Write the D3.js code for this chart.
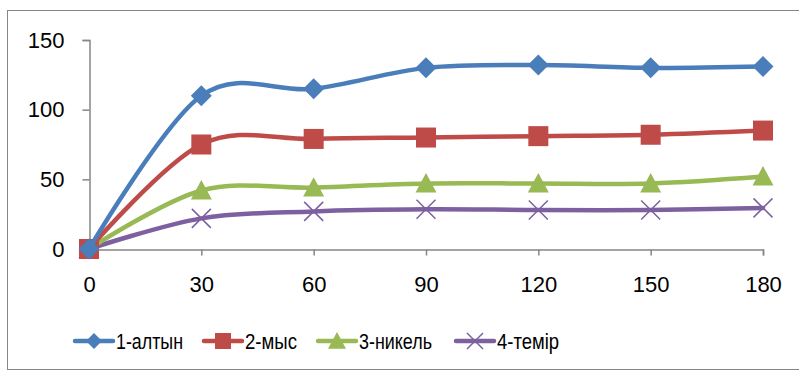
<!DOCTYPE html>
<html><head><meta charset="utf-8">
<script src="https://cdn.jsdelivr.net/npm/d3@7"></script>
<style>body{margin:0;background:#fff}svg{display:block}</style>
</head><body>
<svg id="c" width="799" height="374"></svg>
<script>
const categories = [0, 30, 60, 90, 120, 150, 180];
const seriesNames = ["1-алтын", "2-мыс", "3-никель", "4-темір"];
const gold = [0, 110, 115, 130, 132, 130, 131];
const copper = [0, 75, 79, 80, 81, 82, 85];
const nickel = [0, 42, 44, 47, 47, 47, 52];
const iron = [0, 22, 27, 28.5, 28, 28, 29.5];
const yTicks = [0, 50, 100, 150];
const colors = ["#4a7ebb", "#be4b48", "#98b954", "#7d60a0"];
const markers = ["diamond", "square", "triangle", "x"];
const allSeries = [gold, copper, nickel, iron];

const svg = d3.select("#c");
const font = "'Liberation Sans', Arial, sans-serif";
svg.append("rect").attr("x", 7.5).attr("y", 10.5).attr("width", 800).attr("height", 359)
  .attr("fill", "#fff").attr("stroke", "#868686").attr("stroke-width", 1);

const x = d3.scalePoint().domain(categories).range([89, 763]);
const y = d3.scaleLinear().domain([0, 150]).range([249, 40]);

const gy = svg.append("g").attr("transform", "translate(89.5,0)")
  .call(d3.axisLeft(y).tickValues(yTicks).tickSize(7).tickPadding(18));
const gx = svg.append("g").attr("transform", "translate(0,249.5)")
  .call(d3.axisBottom(x).tickSize(6).tickPadding(21));
[gx, gy].forEach(g => {
  g.selectAll("path,line").attr("stroke", "#868686").attr("stroke-width", 1.5);
  g.selectAll("text").attr("font-family", font).attr("font-size", 22).attr("fill", "#000");
});

function drawMarker(g, type, cx, cy, color, s) {
  if (type === "diamond") {
    g.append("path").attr("d", `M${cx},${cy-s}L${cx+s},${cy}L${cx},${cy+s}L${cx-s},${cy}Z`).attr("fill", color);
  } else if (type === "square") {
    g.append("rect").attr("x", cx - s).attr("y", cy - s).attr("width", 2 * s).attr("height", 2 * s).attr("fill", color);
  } else if (type === "triangle") {
    g.append("path").attr("d", `M${cx},${cy-s}L${cx+s},${cy+s*0.85}L${cx-s},${cy+s*0.85}Z`).attr("fill", color);
  } else {
    const r = s;
    g.append("path").attr("d", `M${cx-r},${cy-r}L${cx+r},${cy+r}M${cx-r},${cy+r}L${cx+r},${cy-r}`)
      .attr("stroke", color).attr("stroke-width", 1.5).attr("fill", "none");
  }
}
const sizes = [10.5, 10, 10.5, 9.5];
const line = d3.line().x((d, i) => x(categories[i])).y(d => y(d)).curve(d3.curveCardinal.tension(0));
allSeries.slice().reverse().forEach((vals, ri) => {
  const i = allSeries.length - 1 - ri;
  const g = svg.append("g");
  g.append("path").attr("d", line(vals)).attr("fill", "none").attr("stroke", colors[i])
    .attr("stroke-width", 4.5).attr("stroke-linejoin", "round").attr("stroke-linecap", "round");
  vals.forEach((v, j) => drawMarker(g, markers[i], x(categories[j]), y(v), colors[i], sizes[i]));
});

const legendX = [75, 204, 318, 456];
const textW = [67, 52, 73, 62];
const ly = 341;
seriesNames.forEach((name, i) => {
  const g = svg.append("g");
  g.append("line").attr("x1", legendX[i]).attr("x2", legendX[i] + 38).attr("y1", ly).attr("y2", ly)
    .attr("stroke", colors[i]).attr("stroke-width", 4.5).attr("stroke-linecap", "round");
  drawMarker(g, markers[i], legendX[i] + 19, ly, colors[i], [8, 8, 9, 8][i]);
  g.append("text").attr("x", legendX[i] + 41).attr("y", ly).attr("dy", "0.35em")
    .attr("font-family", font).attr("font-size", 22)
    .attr("textLength", textW[i]).attr("lengthAdjust", "spacingAndGlyphs").text(name);
});
</script>
</body></html>
